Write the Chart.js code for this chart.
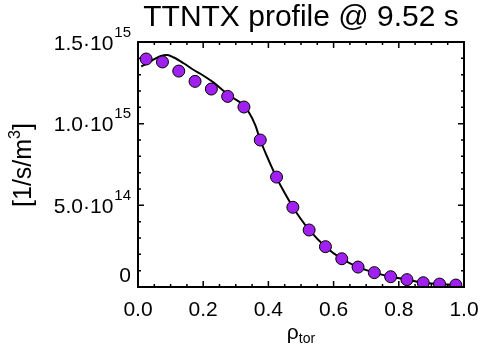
<!DOCTYPE html>
<html><head><meta charset="utf-8">
<script src="https://cdn.jsdelivr.net/npm/chart.js@4/dist/chart.umd.min.js"></script>
<style>html,body{margin:0;padding:0;background:#fff;}#wrap{width:483px;height:349px;}</style>
</head><body><div id="wrap"><canvas id="c" width="483" height="349"></canvas></div>
<script>
const titleText = 'TTNTX profile @ 9.52 s';
const pointRho = [0.025,0.075,0.125,0.175,0.225,0.275,0.325,0.375,0.425,0.475,0.525,0.575,0.625,0.675,0.725,0.775,0.825,0.875,0.925,0.975];
const pointRate = [1.396e15,1.378e15,1.322e15,1.259e15,1.212e15,1.167e15,1.102e15,0.900e15,0.673e15,0.488e15,0.349e15,0.247e15,0.173e15,0.122e15,0.088e15,0.063e15,0.045e15,0.026e15,0.018e15,0.012e15];
const curveRho = [0.01,0.03,0.05,0.07,0.09,0.11,0.14,0.17,0.20,0.23,0.26,0.29,0.32,0.34,0.36,0.375,0.40,0.425,0.45,0.475,0.50,0.525,0.575,0.625,0.675,0.725,0.775,0.825,0.875,0.925,0.975];
const curveRate = [1.35e15,1.37e15,1.395e15,1.415e15,1.42e15,1.405e15,1.37e15,1.33e15,1.295e15,1.255e15,1.205e15,1.16e15,1.12e15,1.07e15,0.99e15,0.90e15,0.78e15,0.67e15,0.575e15,0.49e15,0.415e15,0.35e15,0.247e15,0.173e15,0.122e15,0.088e15,0.063e15,0.045e15,0.026e15,0.018e15,0.012e15];
const xMajorTicks = [0,0.2,0.4,0.6,0.8,1.0];
const xTickLabels = ['0.0','0.2','0.4','0.6','0.8','1.0'];
const yTickValues = [0,5e14,1e15,1.5e15];
const yTickMantissa = ['0','5.0','1.0','1.5'];
const yTickExponent = ['','14','15','15'];
const yTitleBase = '[1/s/m';
const yTitleSup = '3';
const yTitleEnd = ']';
const xTitleMain = 'ρ';
const xTitleSub = 'tor';

const FONT = "'Liberation Sans', Arial, Helvetica, sans-serif";

const decor = {
  id: 'decor',
  afterDraw(chart) {
    const {ctx, chartArea: a, scales: {x, y}} = chart;
    ctx.save();
    ctx.strokeStyle = '#000';
    ctx.lineWidth = 1.5;
    ctx.beginPath();
    for (let i = 0; i <= 20; i++) {
      const v = i * 0.05;
      const px = x.getPixelForValue(v);
      const len = (i % 4 === 0) ? 6 : 3;
      ctx.moveTo(px, a.bottom); ctx.lineTo(px, a.bottom - len);
      ctx.moveTo(px, a.top); ctx.lineTo(px, a.top + len);
    }
    for (let i = 0; i <= 15; i++) {
      const v = i * 1e14;
      const py = y.getPixelForValue(v);
      const len = (i % 5 === 0) ? 6 : 3;
      ctx.moveTo(a.left, py); ctx.lineTo(a.left + len, py);
      ctx.moveTo(a.right, py); ctx.lineTo(a.right - len, py);
    }
    ctx.stroke();
    ctx.lineWidth = 2;
    ctx.strokeRect(a.left, a.top, a.right - a.left, a.bottom - a.top);

    ctx.fillStyle = '#000';
    ctx.textBaseline = 'alphabetic';
    ctx.textAlign = 'left';
    const right = a.left - 7;
    yTickValues.forEach((v, i) => {
      const py = y.getPixelForValue(v);
      const dy = v === 0 ? -5 : 7.5;
      const exp = yTickExponent[i];
      ctx.font = `15px ${FONT}`;
      const ew = exp ? ctx.measureText(exp).width + 1 : 0;
      ctx.font = `21px ${FONT}`;
      const base = exp ? yTickMantissa[i] + '·10' : yTickMantissa[i];
      const bw = ctx.measureText(base).width;
      ctx.fillText(base, right - ew - bw, py + dy);
      if (exp) {
        ctx.font = `15px ${FONT}`;
        ctx.fillText(exp, right - ew + 1, py + dy - 13);
      }
    });

    // y title (rotated)
    ctx.save();
    ctx.translate(31, 165);
    ctx.rotate(-Math.PI / 2);
    ctx.font = `25px ${FONT}`;
    const w1 = ctx.measureText(yTitleBase).width;
    const w3 = ctx.measureText(yTitleEnd).width;
    ctx.font = `16px ${FONT}`;
    const w2 = ctx.measureText(yTitleSup).width;
    let sx = -(w1 + w2 + w3) / 2;
    ctx.font = `25px ${FONT}`;
    ctx.fillText(yTitleBase, sx, 0);
    ctx.font = `16px ${FONT}`;
    ctx.fillText(yTitleSup, sx + w1, -11);
    ctx.font = `25px ${FONT}`;
    ctx.fillText(yTitleEnd, sx + w1 + w2, 0);
    ctx.restore();

    // x title
    ctx.font = `21px ${FONT}`;
    const rw = ctx.measureText(xTitleMain).width;
    ctx.font = `14px ${FONT}`;
    const tw = ctx.measureText(xTitleSub).width;
    const cx = (a.left + a.right) / 2;
    const start = cx - (rw + tw) / 2;
    ctx.font = `21px ${FONT}`;
    ctx.fillText(xTitleMain, start, 339);
    ctx.font = `14px ${FONT}`;
    ctx.fillText(xTitleSub, start + rw, 343);
    ctx.restore();
  }
};

new Chart(document.getElementById('c'), {
  type: 'scatter',
  data: {
    datasets: [
      {
        type: 'line',
        data: curveRho.map((r, i) => ({x: r, y: curveRate[i]})),
        borderColor: '#000',
        borderWidth: 2,
        pointRadius: 0,
        fill: false,
        cubicInterpolationMode: 'monotone',
        order: 2
      },
      {
        data: pointRho.map((r, i) => ({x: r, y: pointRate[i]})),
        backgroundColor: 'rgb(160,32,240)',
        borderColor: '#000',
        borderWidth: 1,
        pointRadius: 6,
        pointHoverRadius: 6,
        clip: 0,
        order: 1
      }
    ]
  },
  options: {
    responsive: false,
    animation: false,
    events: [],
    layout: {padding: {left: 0, right: 19, top: 0, bottom: 0}},
    plugins: {
      legend: {display: false},
      tooltip: {enabled: false},
      title: {
        display: true,
        text: titleText,
        fullSize: false,
        color: '#000',
        font: {family: FONT, size: 30, weight: 'normal', lineHeight: 1.2},
        padding: {top: 0, bottom: 6}
      }
    },
    scales: {
      x: {
        type: 'linear', min: 0, max: 1,
        grid: {display: false, drawTicks: false},
        border: {display: false},
        afterBuildTicks: (s) => { s.ticks = xMajorTicks.map(v => ({value: v})); },
        ticks: {
          color: '#000', padding: 11, maxRotation: 0,
          font: {family: FONT, size: 21},
          callback: (v) => xTickLabels[xMajorTicks.findIndex(t => Math.abs(t - v) < 1e-9)]
        },
        afterFit: (s) => { s.height = 62; s.paddingRight = 0; s.paddingLeft = 0; }
      },
      y: {
        type: 'linear', min: 0, max: 1.5e15,
        grid: {display: false, drawTicks: false},
        border: {display: false},
        ticks: {display: false},
        afterFit: (s) => { s.width = 138; s.paddingTop = 0; s.paddingBottom = 0; }
      }
    }
  },
  plugins: [decor]
});
</script>
</body></html>
